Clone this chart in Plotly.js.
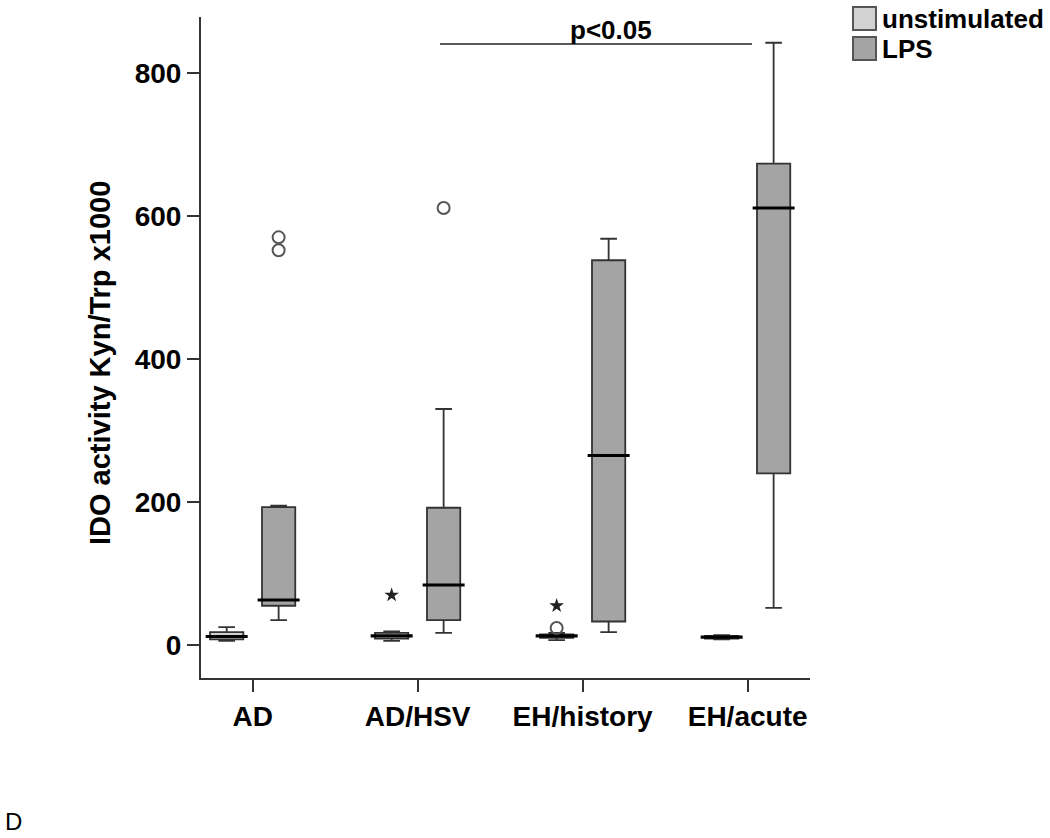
<!DOCTYPE html>
<html>
<head>
<meta charset="utf-8">
<script src="https://cdn.plot.ly/plotly-3.0.1.min.js"></script>
<style>html,body{margin:0;padding:0;background:#fff;}#chart{width:1050px;height:838px;}</style>
</head>
<body>
<div id="chart"></div>
<script>
// ---- data ----
const groups = ["AD", "AD/HSV", "EH/history", "EH/acute"];

const unstimLower  = [6, 6, 7, 8];
const unstimQ1     = [8, 9, 10, 9];
const unstimMedian = [12, 13, 13, 11];
const unstimQ3     = [18, 17, 15, 13];
const unstimUpper  = [25, 19, 17, 14];

const lpsLower  = [35, 17, 18, 52];
const lpsQ1     = [55, 35, 33, 240];
const lpsMedian = [63, 84, 265, 611];
const lpsQ3     = [193, 192, 538, 673];
const lpsUpper  = [195, 330, 568, 842];

// outliers (o = circle, * = extreme)
const unstimCircleGroup = ["EH/history"];
const unstimCircleValue = [24];
const unstimStarGroup = ["AD/HSV", "EH/history"];
const unstimStarValue = [70, 55];
const lpsCircleGroup = ["AD", "AD", "AD/HSV"];
const lpsCircleValue = [552, 570, 611];

const yTicks = [0, 200, 400, 600, 800];
const seriesNames = ["unstimulated", "LPS"];
const yTitle = "IDO activity Kyn/Trp x1000";

// ---- styles ----
const FONT = "Liberation Sans, Arial, sans-serif";
const unstimFill = "#d2d2d2";
const lpsFill = "#a4a4a4";
const edge = "#333";

function boxTrace(name, fill, lo, q1, med, q3, hi, og) {
  return {
    type: "box", name: name, x: groups,
    lowerfence: lo, q1: q1, median: med, q3: q3, upperfence: hi,
    fillcolor: fill, line: {color: edge, width: 1.8},
    whiskerwidth: 0.5, boxpoints: false, offsetgroup: og,
    showlegend: false, hoverinfo: "skip"
  };
}
function medianTrace(med, og) {
  return {type: "scatter", mode: "markers", x: groups, y: med, offsetgroup: og,
    marker: {symbol: "line-ew", size: 30, color: "#000", line: {width: 3.2, color: "#000"}},
    showlegend: false, hoverinfo: "skip"};
}

const traces = [
  boxTrace(seriesNames[0], unstimFill, unstimLower, unstimQ1, unstimMedian, unstimQ3, unstimUpper, "u"),
  boxTrace(seriesNames[1], lpsFill, lpsLower, lpsQ1, lpsMedian, lpsQ3, lpsUpper, "l"),
  medianTrace(unstimMedian, "u"),
  medianTrace(lpsMedian, "l"),
  {type: "scatter", mode: "markers", x: unstimCircleGroup, y: unstimCircleValue, offsetgroup: "u",
   marker: {symbol: "circle-open", size: 12, color: "#555", line: {width: 2, color: "#555"}}, showlegend: false, hoverinfo: "skip"},
  {type: "scatter", mode: "markers", x: unstimStarGroup, y: unstimStarValue, offsetgroup: "u",
   marker: {symbol: "star", size: 11, color: "#222", line: {width: 0}}, showlegend: false, hoverinfo: "skip"},
  {type: "scatter", mode: "markers", x: lpsCircleGroup, y: lpsCircleValue, offsetgroup: "l",
   marker: {symbol: "circle-open", size: 12, color: "#555", line: {width: 2, color: "#555"}}, showlegend: false, hoverinfo: "skip"}
];

// plot area in pixels: x 201..810, y 17..678
const L = 201, R = 810, T = 17, B = 678;
const W = 1050, H = 838;
function px(x) { return (x - L) / (R - L); }
function py(y) { return (B - y) / (B - T); }

const layout = {
  width: W, height: H,
  margin: {l: L, r: W - R, t: T, b: H - B, pad: 0},
  paper_bgcolor: "#fff", plot_bgcolor: "#fff",
  boxmode: "group", boxgap: 0.37, boxgroupgap: 0.36,
  scattermode: "group", scattergap: 0.37,
  showlegend: false,
  font: {family: FONT, color: "#000"},
  xaxis: {
    type: "category", categoryorder: "array", categoryarray: groups,
    range: [-0.313, 3.378], showgrid: false, zeroline: false,
    showline: true, linecolor: "#333", linewidth: 2,
    ticks: "outside", ticklen: 12, tickwidth: 2, tickcolor: "#333",
    tickfont: {family: FONT, size: 28, weight: "bold", color: "#000"}
  },
  yaxis: {
    range: [-46, 878], tickvals: yTicks, showgrid: false, zeroline: false,
    showline: true, linecolor: "#333", linewidth: 2,
    ticks: "outside", ticklen: 12, tickwidth: 2, tickcolor: "#333",
    tickfont: {family: FONT, size: 28, weight: "bold", color: "#000"}
  },
  shapes: [
    {type: "line", xref: "paper", yref: "paper", x0: px(440), x1: px(752), y0: py(44), y1: py(44), line: {color: "#222", width: 1.5}},
    {type: "rect", xref: "paper", yref: "paper", x0: px(853), x1: px(876), y0: py(7), y1: py(30), fillcolor: unstimFill, line: {color: "#555", width: 2}},
    {type: "rect", xref: "paper", yref: "paper", x0: px(853), x1: px(876), y0: py(37), y1: py(60), fillcolor: lpsFill, line: {color: "#555", width: 2}}
  ],
  annotations: [
    {text: "<b>" + yTitle + "</b>", xref: "paper", yref: "paper", x: px(100), y: py(363), xanchor: "center", yanchor: "middle", textangle: -90, showarrow: false, font: {family: FONT, size: 29, color: "#000"}},
    {text: "<b>p<0.05</b>", xref: "paper", yref: "paper", x: px(611), y: py(30), xanchor: "center", yanchor: "middle", showarrow: false, font: {family: FONT, size: 26, color: "#000"}},
    {text: "<b>" + seriesNames[0] + "</b>", xref: "paper", yref: "paper", x: px(880), y: py(19), xanchor: "left", yanchor: "middle", showarrow: false, font: {family: FONT, size: 26, color: "#000"}},
    {text: "<b>" + seriesNames[1] + "</b>", xref: "paper", yref: "paper", x: px(880), y: py(49), xanchor: "left", yanchor: "middle", showarrow: false, font: {family: FONT, size: 26, color: "#000"}},
    {text: "D", xref: "paper", yref: "paper", x: px(3), y: py(822), xanchor: "left", yanchor: "middle", showarrow: false, font: {family: FONT, size: 24, color: "#000"}}
  ]
};

Plotly.newPlot("chart", traces, layout, {staticPlot: true, displayModeBar: false});
</script>
</body>
</html>
